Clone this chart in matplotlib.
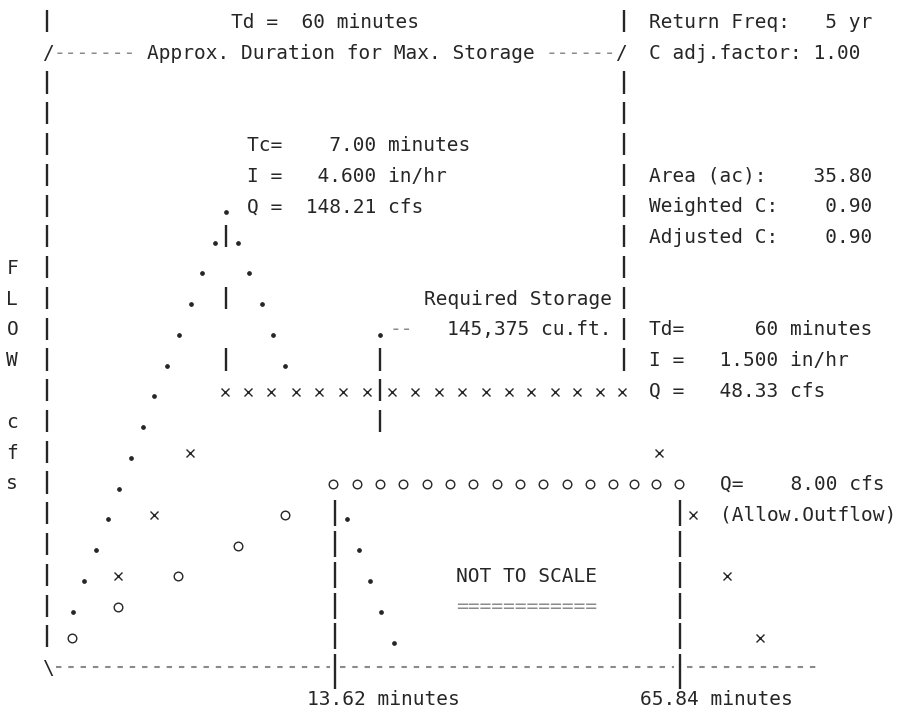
import matplotlib
matplotlib.use("Agg")
import matplotlib.pyplot as plt

# ---------------- data (grid units: column = one character cell, row = one text line) -------------
# Inflow hydrograph for Tc (dots)
tc_rise_cols = [6.2, 7.2, 8.2, 9.2, 10.2, 11.2, 12.2, 13.2, 14.3, 15.3, 16.3, 17.3, 18.4, 19.3]
tc_rise_rows = [19, 18, 17, 16, 15, 14, 13, 12, 11, 10, 9, 8, 7, 6]
tc_fall_cols = [20.3, 21.3, 22.4, 23.3, 24.4, 29.7, 30.7, 31.6, 32.6, 33.7]
tc_fall_rows = [7, 8, 9, 10, 11, 16, 17, 18, 19, 20]
storage_dot_col = [32.5]
storage_dot_row = [10]

# Inflow hydrograph for Td (x)
td_cols = [10.1, 13.2, 16.2,
           19.2, 21.2, 23.2, 25.3, 27.3, 29.3, 31.4, 33.5, 35.5, 37.5, 39.5, 41.5,
           43.5, 45.4, 47.4, 49.3, 51.3, 53.2,
           56.3, 59.2, 62.1, 65.0]
td_rows = [18, 16, 14] + [12] * 18 + [14, 16, 18, 20]

# Allowable outflow (o)
out_cols = [6.15, 10.1, 15.2, 20.3, 24.4,
            28.46, 30.51, 32.48, 34.44, 36.5, 38.46, 40.43, 42.48, 44.44, 46.41,
            48.46, 50.43, 52.39, 54.2, 56.1, 58.0]
out_rows = [20, 19, 18, 17, 16] + [15] * 16

# Vertical markers
peak_bar_col, peak_bar_rows = 19.3, [7, 9, 11]
stor_bar_col, stor_bar_rows = 32.5, [11, 12, 13]
t1_bar_col, t1_bar_rows = 28.6, [16, 17, 18, 19, 20]
t2_bar_col, t2_bar_rows = 58.1, [16, 17, 18, 19, 20]
left_axis_col, left_axis_rows = 4.0, [0] + list(range(2, 21))
right_bar_col, right_bar_rows = 53.3, [0] + list(range(2, 12))
base_row = 21
base_dash_spans = [(4.8, 28.2), (29.1, 57.6), (58.7, 70.1)]

# Text (col, row, string, colour)
DARK = "#262626"
GREY = "#8a8a8a"
texts = [
    (19.75, 0, "Td =  60 minutes", DARK),
    (3.6, 1, "/", DARK),
    (4.6, 1, "-------", GREY),
    (12.6, 1, "Approx. Duration for Max. Storage", DARK),
    (46.6, 1, "------", GREY),
    (52.6, 1, "/", DARK),
    (55.5, 0, "Return Freq:   5 yr", DARK),
    (55.5, 1, "C adj.factor: 1.00", DARK),
    (21.1, 4, "Tc=    7.00 minutes", DARK),
    (21.1, 5, "I =   4.600 in/hr", DARK),
    (21.1, 6, "Q =  148.21 cfs", DARK),
    (55.5, 5, "Area (ac):    35.80", DARK),
    (55.5, 6, "Weighted C:    0.90", DARK),
    (55.5, 7, "Adjusted C:    0.90", DARK),
    (36.2, 9, "Required Storage", DARK),
    (38.2, 10, "145,375 cu.ft.", DARK),
    (33.3, 10, "--", GREY),
    (55.5, 10, "Td=      60 minutes", DARK),
    (55.5, 11, "I =   1.500 in/hr", DARK),
    (55.5, 12, "Q =   48.33 cfs", DARK),
    (61.5, 15, "Q=    8.00 cfs", DARK),
    (61.5, 16, "(Allow.Outflow)", DARK),
    (39.0, 18, "NOT TO SCALE", DARK),
    (39.0, 19, "============", GREY),
    (26.2, 22, "13.62 minutes", DARK),
    (54.7, 22, "65.84 minutes", DARK),
    (3.6, 21, "\\", DARK),
]
axis_letters = [("F", 8), ("L", 9), ("O", 10), ("W", 11), ("c", 13), ("f", 14), ("s", 15)]

# ---------------- layout ----------------
W, H = 898, 710
CW = 11.7      # px per character column
RS = 30.77     # px per text row
Y0 = 21.0      # px of row 0 centre

fig = plt.figure(figsize=(W / 100, H / 100), dpi=100)
ax = fig.add_axes([0, 0, 1, 1])
ax.set_xlim(0, W / CW)
ax.set_ylim((H - Y0) / RS, -Y0 / RS)
ax.axis("off")

FONT = dict(family="DejaVu Sans Mono", size=14)
BASE = 0.22   # baseline offset (rows) below row centre
DOT = 0.2

for c, r, s, col in texts:
    ax.text(c, r + BASE, s, ha="left", va="baseline", color=col, **FONT)
for s, r in axis_letters:
    ax.text(1.05, r + BASE, s, ha="center", va="baseline", color=DARK, **FONT)

# hydrograph marks
ax.plot(tc_rise_cols, [r + DOT for r in tc_rise_rows], "o", ms=2.4, color=DARK, ls="none")
ax.plot(tc_fall_cols, [r + DOT for r in tc_fall_rows], "o", ms=2.4, color=DARK, ls="none")
ax.plot(storage_dot_col, [r + DOT for r in storage_dot_row], "o", ms=2.4, color=DARK, ls="none")
ax.plot(td_cols, [r + 0.05 for r in td_rows], "x", ms=6, mew=1.0, color=DARK, ls="none")
ax.plot(out_cols, [r + 0.05 for r in out_rows], "o", ms=6.2, mew=1.0, mfc="none", mec=DARK, ls="none")

def bars(col, rows, lo=0.36, hi=0.36):
    ax.vlines([col] * len(rows), [r - lo for r in rows], [r + hi for r in rows], color=DARK, lw=1.7)

bars(left_axis_col, left_axis_rows)
bars(right_bar_col, right_bar_rows)
bars(peak_bar_col, peak_bar_rows)
bars(stor_bar_col, stor_bar_rows)
bars(t1_bar_col, t1_bar_rows, 0.42, 0.42)
bars(t2_bar_col, t2_bar_rows, 0.42, 0.42)
bars(t1_bar_col, [base_row], 0.42, 0.7)
bars(t2_bar_col, [base_row], 0.42, 0.7)

for a, b in base_dash_spans:
    ax.hlines(base_row, a, b, color=GREY, lw=1.5, linestyles=(0, (2.6, 3.3)))

fig.savefig("out.png", dpi=100, facecolor="white")
